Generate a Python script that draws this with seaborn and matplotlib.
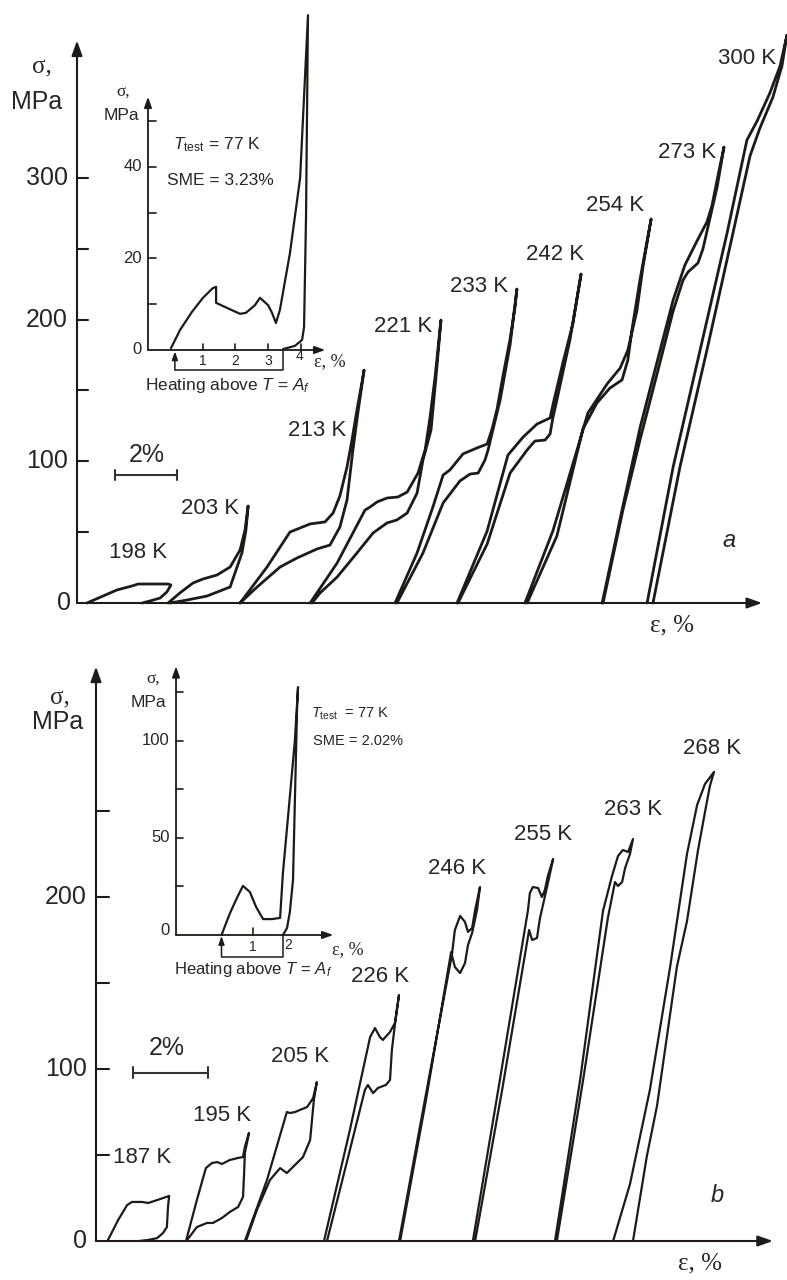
import matplotlib
matplotlib.use("Agg")
import matplotlib.pyplot as plt
import pandas as pd
import seaborn as sns

sns.set_theme(style="white")
plt.rcParams["font.family"] = ["Liberation Sans", "DejaVu Sans"]
plt.rcParams["mathtext.fontset"] = "custom"
plt.rcParams["mathtext.rm"] = "Liberation Sans"
plt.rcParams["mathtext.it"] = "Liberation Sans:italic"
plt.rcParams["lines.solid_joinstyle"] = "round"
plt.rcParams["lines.solid_capstyle"] = "round"

INK = "#1e1a18"
GREEK = ["Liberation Serif", "DejaVu Serif"]

# ---------------- panel a: stress-strain loops (strain %, stress MPa) ----------------
a198_eps = [0.32, 1.29, 1.77, 1.97, 2.94, 3.03, 2.90, 2.68, 2.35, 2.10]
a198_sig = [0, 9.2, 12.0, 13.4, 13.4, 12.7, 7.8, 3.5, 1.4, 0]

a203_eps = [2.94, 3.32, 3.74, 4.06, 4.52, 4.94, 5.26, 5.42, 5.52, 5.45, 5.32, 4.94, 4.19, 3.55, 3.00]
a203_sig = [0, 7.1, 14.1, 16.9, 19.8, 25.4, 37.4, 51.5, 68.5, 51.5, 35.3, 11.3, 4.9, 2.1, 0]

a213_eps = [5.26, 6.13, 6.87, 7.19, 7.52, 8.00, 8.26, 8.48, 8.71, 8.87, 9.03, 9.19, 9.26,
            9.06, 8.90, 8.71, 8.48, 8.16, 7.74, 7.10, 6.55, 5.81, 5.26]
a213_sig = [0, 25.4, 50.1, 52.9, 55.8, 57.2, 63.5, 75.5, 96.0, 115.0, 136.2, 155.3, 164.4,
            134.1, 108.0, 72.7, 53.6, 40.9, 38.1, 31.8, 25.4, 11.3, 0]

a221_eps = [7.52, 8.39, 8.90, 9.29, 9.45, 9.68, 10.00, 10.35, 10.65, 11.00, 11.23, 11.39, 11.55, 11.74,
            11.61, 11.42, 11.16, 10.97, 10.65, 10.32, 10.00, 9.55, 9.03, 8.39, 7.84, 7.58]
a221_sig = [0, 28.2, 49.4, 65.6, 67.7, 71.3, 74.1, 74.8, 78.3, 91.7, 108.0, 131.3, 159.5, 199.7,
            166.5, 122.1, 100.9, 77.6, 63.5, 58.6, 56.5, 49.4, 35.3, 18.3, 7.1, 0]

a233_eps = [10.26, 10.97, 11.48, 11.81, 12.03, 12.45, 12.90, 13.23, 13.39, 13.55, 13.74, 13.97, 14.13, 14.19,
            13.97, 13.65, 13.26, 13.16, 12.94, 12.68, 12.35, 11.81, 11.16, 10.32]
a233_sig = [0, 35.3, 67.7, 90.3, 93.9, 105.2, 109.4, 112.2, 122.8, 136.9, 160.2, 186.3, 208.9, 221.6,
            182.1, 143.3, 108.0, 100.9, 91.7, 91.0, 86.1, 70.6, 35.3, 0]

a242_eps = [12.26, 13.23, 13.90, 14.39, 14.84, 15.26, 15.35, 15.68, 16.00, 16.26,
            15.90, 15.48, 15.35, 15.26, 15.10, 14.77, 14.52, 13.97, 13.23, 12.29]
a242_sig = [0, 50.8, 104.4, 117.1, 126.3, 130.6, 139.7, 170.1, 197.6, 232.2,
            185.6, 143.3, 130.6, 119.3, 115.0, 114.3, 108.0, 91.7, 41.6, 0]

a254_eps = [14.45, 15.35, 16.13, 16.48, 17.10, 17.52, 17.77, 18.06, 18.26, 18.52,
            18.16, 17.90, 17.77, 17.58, 17.19, 16.77, 16.32, 15.48, 14.52]
a254_sig = [0, 50.8, 108.0, 134.1, 154.6, 165.8, 178.5, 206.1, 237.8, 271.0,
            228.0, 192.7, 171.5, 157.4, 151.7, 141.1, 122.8, 47.3, 0]

a273_eps = [16.94, 17.61, 18.16, 18.81, 19.23, 19.61, 20.00, 20.32, 20.48, 20.68, 20.87,
            20.65, 20.42, 20.19, 20.03, 19.71, 19.55, 19.23, 18.81, 18.16, 17.61, 16.97]
a273_sig = [0, 68.5, 123.5, 178.5, 213.8, 238.5, 255.5, 268.9, 280.2, 302.0, 321.8,
            293.6, 271.7, 249.8, 239.9, 233.6, 227.9, 206.1, 170.1, 115.0, 65.6, 0]

a300_eps = [18.39, 19.23, 20.10, 20.97, 21.61, 21.94, 22.35, 22.68, 22.90,
            22.74, 22.45, 22.03, 21.71, 21.16, 20.32, 19.45, 18.58]
a300_sig = [0, 96.0, 178.5, 261.1, 326.7, 340.2, 359.9, 379.0, 400.8,
            379.0, 357.1, 335.2, 315.5, 261.1, 178.5, 96.0, 0]

a_temps = ["198 K", "203 K", "213 K", "221 K", "233 K", "242 K", "254 K", "273 K", "300 K"]
a_label_eps = [1.97, 4.29, 7.74, 10.52, 12.97, 15.42, 17.35, 19.68, 21.61]
a_label_sig = [35.3, 67.0, 121.4, 194.8, 223.7, 245.6, 280.2, 317.6, 384.6]
a_ticks = [0, 50, 100, 150, 200, 250, 300]
a_ticklabels = ["0", "", "100", "", "200", "", "300"]

# inset a: recovery test at 77 K
ia_eps = [0.03, 0.31, 0.67, 1.01, 1.31, 1.41, 1.41, 1.74, 2.14, 2.32, 2.60, 2.75, 3.00, 3.12, 3.24,
          3.36, 3.67, 3.98, 4.22, 4.16, 4.10, 4.04, 3.82, 3.46]
ia_sig = [0.4, 4.4, 8.3, 11.4, 13.5, 13.8, 10.3, 9.2, 7.9, 8.1, 9.8, 11.4, 9.8, 8.1, 5.9,
          8.7, 21.2, 37.6, 73.1, 29.0, 5.0, 2.2, 0.9, 0.2]
ia_ticks = [0, 10, 20, 30, 40, 50]
ia_ticklabels = ["0", "", "20", "", "40", ""]

# ---------------- panel b ----------------
b187_eps = [0.32, 0.59, 0.83, 0.96, 1.23, 1.39, 1.63, 1.95, 1.92, 1.89, 1.79, 1.63, 1.39, 1.15]
b187_sig = [0.6, 12.2, 20.9, 22.7, 22.7, 22.1, 23.8, 26.2, 19.8, 8.1, 4.7, 1.7, 0.6, 0]

b195_eps = [2.40, 2.69, 2.93, 3.09, 3.23, 3.36, 3.57, 3.79, 3.92, 3.97, 4.08,
            3.97, 3.95, 3.92, 3.79, 3.57, 3.36, 3.12, 2.96, 2.69, 2.43]
b195_sig = [0, 23.8, 42.4, 45.3, 45.9, 44.8, 47.1, 48.3, 48.8, 54.7, 62.8,
            51.2, 39.5, 25.6, 19.8, 16.9, 13.4, 10.5, 10.5, 8.1, 0.6]

b205_eps = [3.97, 4.56, 5.09, 5.17, 5.31, 5.44, 5.63, 5.79, 5.89,
            5.81, 5.71, 5.52, 5.25, 5.09, 4.91, 4.64, 4.29, 4.00]
b205_sig = [0, 35.5, 75.0, 74.4, 75.0, 76.2, 77.9, 83.1, 92.4,
            82.0, 58.7, 48.8, 43.0, 39.5, 42.4, 35.5, 18.0, 0]

b226_eps = [6.08, 6.77, 7.31, 7.44, 7.57, 7.65, 7.84, 7.97, 8.08,
            7.97, 7.89, 7.84, 7.73, 7.52, 7.39, 7.25, 7.17, 6.67, 6.16]
b226_sig = [0, 64.5, 118.6, 123.8, 118.6, 116.9, 121.5, 126.7, 143.0,
            125.6, 111.0, 93.6, 90.7, 89.0, 86.0, 90.7, 87.8, 44.2, 0]

b246_eps = [8.08, 8.77, 9.49, 9.57, 9.71, 9.84, 9.92, 10.03, 10.11, 10.24,
            10.16, 10.03, 9.92, 9.84, 9.71, 9.57, 9.47, 8.80, 8.11]
b246_sig = [0, 82.0, 166.3, 180.8, 189.0, 185.5, 179.7, 182.0, 192.4, 205.8,
            192.4, 179.1, 172.1, 161.6, 155.8, 159.3, 168.0, 82.0, 0]

b255_eps = [10.05, 10.77, 11.52, 11.57, 11.65, 11.79, 11.89, 11.97, 12.05, 12.19,
            12.08, 11.95, 11.84, 11.76, 11.63, 11.55, 10.83, 10.11]
b255_sig = [0, 93.6, 192.4, 202.3, 205.8, 205.2, 200.0, 204.1, 212.2, 222.1,
            211.0, 198.3, 187.8, 176.2, 175.0, 180.8, 87.8, 0]

b263_eps = [12.24, 12.91, 13.52, 13.76, 13.92, 14.05, 14.19, 14.32,
            14.24, 14.11, 14.03, 13.92, 13.84, 13.65, 12.99, 12.29]
b263_sig = [0, 93.6, 191.9, 212.2, 223.8, 227.3, 226.2, 233.7,
            225.0, 216.9, 208.7, 206.4, 208.7, 187.8, 93.6, 0]

b268_eps = [13.79, 14.24, 14.77, 15.31, 15.76, 16.03, 16.24, 16.48,
            16.37, 16.24, 16.05, 15.76, 15.49, 14.96, 14.69, 14.32]
b268_sig = [0, 33.1, 87.8, 159.3, 225.0, 253.5, 265.7, 272.7,
            264.5, 249.4, 226.7, 186.0, 159.3, 78.5, 49.4, 0]

b_temps = ["187 K", "195 K", "205 K", "226 K", "246 K", "255 K", "263 K", "268 K"]
b_label_eps = [1.25, 3.36, 5.44, 7.57, 9.63, 11.92, 14.32, 16.43]
b_label_sig = [48.3, 72.7, 107.0, 153.5, 216.3, 236.6, 250.6, 286.6]
b_ticks = [0, 50, 100, 150, 200, 250]
b_ticklabels = ["0", "", "100", "", "200", ""]

# inset b: recovery test at 77 K
ib_eps = [0.0, 0.27, 0.49, 0.68, 0.90, 1.10, 1.32, 1.60, 1.86, 1.95, 2.14, 2.33, 2.43,
          2.40, 2.33, 2.27, 2.17, 2.08, 1.95]
ib_sig = [0, 11.3, 19.1, 25.3, 22.2, 14.4, 8.2, 8.2, 8.8, 32.0, 66.0, 100.5, 127.8,
          117.5, 69.6, 28.4, 11.9, 3.6, 0]
ib_ticks = [0, 25, 50, 75, 100, 125]
ib_ticklabels = ["0", "", "50", "", "100", ""]


def loops_frame(curves):
    parts = []
    for name, (e, s) in curves.items():
        parts.append(pd.DataFrame({"strain": e, "stress": s, "curve": name}))
    return pd.concat(parts, ignore_index=True)


def draw_loops(ax, curves, lw):
    df = loops_frame(curves)
    sns.lineplot(data=df, x="strain", y="stress", units="curve", estimator=None,
                 sort=False, color=INK, lw=lw, ax=ax, legend=False)


def arrow(ax, start, tip, lw, ms):
    ax.annotate("", xy=tip, xytext=start,
                arrowprops=dict(arrowstyle="-|>,head_length=0.45,head_width=0.16",
                                lw=lw, color=INK, shrinkA=0, shrinkB=0,
                                mutation_scale=ms))


def frame_axes(rect, xlim, ylim):
    ax = fig.add_axes(rect)
    ax.set_xlim(*xlim)
    ax.set_ylim(*ylim)
    ax.set_axis_off()
    ax.patch.set_alpha(0)
    return ax


fig = plt.figure(figsize=(7.87, 12.8), dpi=100)

# ======================= panel a =======================
axA = frame_axes([0, 0.5, 1, 0.5], (-2.484, 22.903), (-26.11, 425.55))
draw_loops(axA, {
    "198": (a198_eps, a198_sig), "203": (a203_eps, a203_sig),
    "213": (a213_eps, a213_sig), "221": (a221_eps, a221_sig),
    "233": (a233_eps, a233_sig), "242": (a242_eps, a242_sig),
    "254": (a254_eps, a254_sig), "273": (a273_eps, a273_sig),
    "300": (a300_eps, a300_sig)}, lw=2.0)
axA.set_xlim(-2.484, 22.903)
axA.set_ylim(-26.11, 425.55)
axA.set_axis_off()

arrow(axA, (0, 0), (0, 397), 1.5, 20)
arrow(axA, (0, 0), (22.1, 0), 1.5, 20)
for v, lab in zip(a_ticks, a_ticklabels):
    if v > 0:
        axA.plot([0, 0.37], [v, v], color=INK, lw=1.5)
    if lab:
        axA.text(-0.29 if v else -0.19, v, lab, ha="right", va="center", fontsize=18)
axA.text(-1.13, 377.6, "σ,", family=GREEK, fontsize=18, ha="center", va="center")
axA.text(-1.29, 353.6, "MPa", fontsize=18, ha="center", va="center")
axA.text(19.19, -15.5, "ε, %", family=GREEK, fontsize=18, ha="center", va="center")
for t, x, y in zip(a_temps, a_label_eps, a_label_sig):
    axA.text(x, y, t, fontsize=16, ha="center", va="center")
axA.text(21.03, 43.8, "a", fontsize=17, style="italic", ha="center", va="center")
# 2 % strain scale bar
axA.plot([1.23, 3.23], [90.3, 90.3], color="#333333", lw=1.5)
for xe in (1.23, 3.23):
    axA.plot([xe, xe], [86.5, 94.1], color="#333333", lw=1.5)
axA.text(2.26, 104.4, "2%", fontsize=18, ha="center", va="center")

# inset a
axIA = frame_axes([90 / 787, 1 - 400 / 1280, 260 / 787, 400 / 1280], (-2.446, 5.505), (-10.92, 76.42))
draw_loops(axIA, {"77": (ia_eps, ia_sig)}, lw=1.6)
axIA.set_xlim(-2.446, 5.505)
axIA.set_ylim(-10.92, 76.42)
axIA.set_axis_off()
arrow(axIA, (-0.673, 0), (-0.673, 55.3), 1.3, 14)
arrow(axIA, (-0.673, 0), (4.75, 0), 1.3, 14)
for v, lab in zip(ia_ticks, ia_ticklabels):
    if v > 0:
        axIA.plot([-0.673, -0.43], [v, v], color=INK, lw=1.2)
    if lab:
        axIA.text(-0.86, v, lab, ha="right", va="center", fontsize=12)
for v in (1, 2, 3, 4):
    axIA.plot([v, v], [0, 1.4], color=INK, lw=1.2)
for v, y in zip((1, 2, 3, 3.95), (-2.3, -2.3, -2.3, -1.4)):
    axIA.text(v, y, str(int(round(v))), ha="center", va="center", fontsize=10)
axIA.text(4.9, -2.6, "ε, %", family=GREEK, fontsize=13, ha="center", va="center")
arrow(axIA, (0.15, -4.37), (0.15, -0.3), 1.1, 11)
axIA.plot([0.15, 3.46, 3.46], [-4.37, -4.37, 0], color=INK, lw=1.1)
axIA.text(1.77, -7.7, "Heating above $T$ = $A_f$", fontsize=12.5, ha="center", va="center")
axIA.text(-1.44, 56.3, "σ,", family=GREEK, fontsize=12.5, ha="center", va="center")
axIA.text(-1.47, 51.3, "MPa", fontsize=12.5, ha="center", va="center")
axIA.text(0.09, 44.8, r"$T_{\rm test}$ = 77 K", fontsize=12.5, ha="left", va="center")
axIA.text(-0.09, 36.9, "SME = 3.23%", fontsize=12.5, ha="left", va="center")

# ======================= panel b =======================
axB = frame_axes([0, 0, 1, 0.5], (-2.56, 18.427), (-22.67, 349.42))
draw_loops(axB, {
    "187": (b187_eps, b187_sig), "195": (b195_eps, b195_sig),
    "205": (b205_eps, b205_sig), "226": (b226_eps, b226_sig),
    "246": (b246_eps, b246_sig), "255": (b255_eps, b255_sig),
    "263": (b263_eps, b263_sig), "268": (b268_eps, b268_sig)}, lw=1.6)
axB.set_xlim(-2.56, 18.427)
axB.set_ylim(-22.67, 349.42)
axB.set_axis_off()

arrow(axB, (0, 0), (0, 334), 1.5, 20)
arrow(axB, (0, 0), (18.05, 0), 1.5, 20)
for v, lab in zip(b_ticks, b_ticklabels):
    if v > 0:
        axB.plot([0, 0.35], [v, v], color=INK, lw=1.5)
    if lab:
        axB.text(-0.25, v, lab, ha="right", va="center", fontsize=18)
axB.text(-0.96, 315.7, "σ,", family=GREEK, fontsize=18, ha="center", va="center")
axB.text(-1.01, 301.7, "MPa", fontsize=18, ha="center", va="center")
axB.text(16.11, -12.8, "ε, %", family=GREEK, fontsize=18, ha="center", va="center")
for t, x, y in zip(b_temps, b_label_eps, b_label_sig):
    if t == "187 K":
        axB.text(0.45, y, t, fontsize=16, ha="left", va="center")
    else:
        axB.text(x, y, t, fontsize=16, ha="center", va="center")
axB.text(16.56, 26.2, "b", fontsize=17, style="italic", ha="center", va="center")
axB.plot([0.99, 2.99], [97.7, 97.7], color="#333333", lw=1.5)
for xe in (0.99, 2.99):
    axB.plot([xe, xe], [94.5, 100.9], color="#333333", lw=1.5)
axB.text(1.89, 112.2, "2%", fontsize=18, ha="center", va="center")

# inset b
axIB = frame_axes([100 / 787, 1 - 990 / 1280, 250 / 787, 350 / 1280], (-3.857, 4.079), (-28.35, 152.06))
draw_loops(axIB, {"77": (ib_eps, ib_sig)}, lw=1.6)
axIB.set_xlim(-3.857, 4.079)
axIB.set_ylim(-28.35, 152.06)
axIB.set_axis_off()
arrow(axIB, (-1.444, 0), (-1.444, 138.5), 1.3, 14)
arrow(axIB, (-1.444, 0), (3.55, 0), 1.3, 14)
for v, lab in zip(ib_ticks, ib_ticklabels):
    if v > 0:
        axIB.plot([-1.444, -1.22], [v, v], color=INK, lw=1.2)
    if lab:
        axIB.text(-1.64, v if v else 2.5, lab, ha="right", va="center", fontsize=12)
axIB.plot([1, 1], [0, 3.6], color=INK, lw=1.2)
axIB.text(1.0, -6.2, "1", ha="center", va="center", fontsize=10)
axIB.text(2.12, -5.4, "2", ha="center", va="center", fontsize=10)
axIB.text(4.02, -7.4, "ε, %", family=GREEK, fontsize=13, ha="center", va="center")
arrow(axIB, (0, -11.3), (0, -0.5), 1.1, 11)
axIB.plot([0, 1.95, 1.95], [-11.3, -11.3, 0], color=INK, lw=1.1)
axIB.text(1.0, -17.6, "Heating above $T$ = $A_f$", fontsize=12, ha="center", va="center")
axIB.text(-2.17, 131.4, "σ,", family=GREEK, fontsize=12.5, ha="center", va="center")
axIB.text(-2.33, 120.1, "MPa", fontsize=12.5, ha="center", va="center")
axIB.text(2.84, 113.9, r"$T_{\rm test}$  = 77 K", fontsize=10.5, ha="left", va="center")
axIB.text(2.90, 100.0, "SME = 2.02%", fontsize=10.5, ha="left", va="center")

fig.savefig("out.png", dpi=100, facecolor="white")
